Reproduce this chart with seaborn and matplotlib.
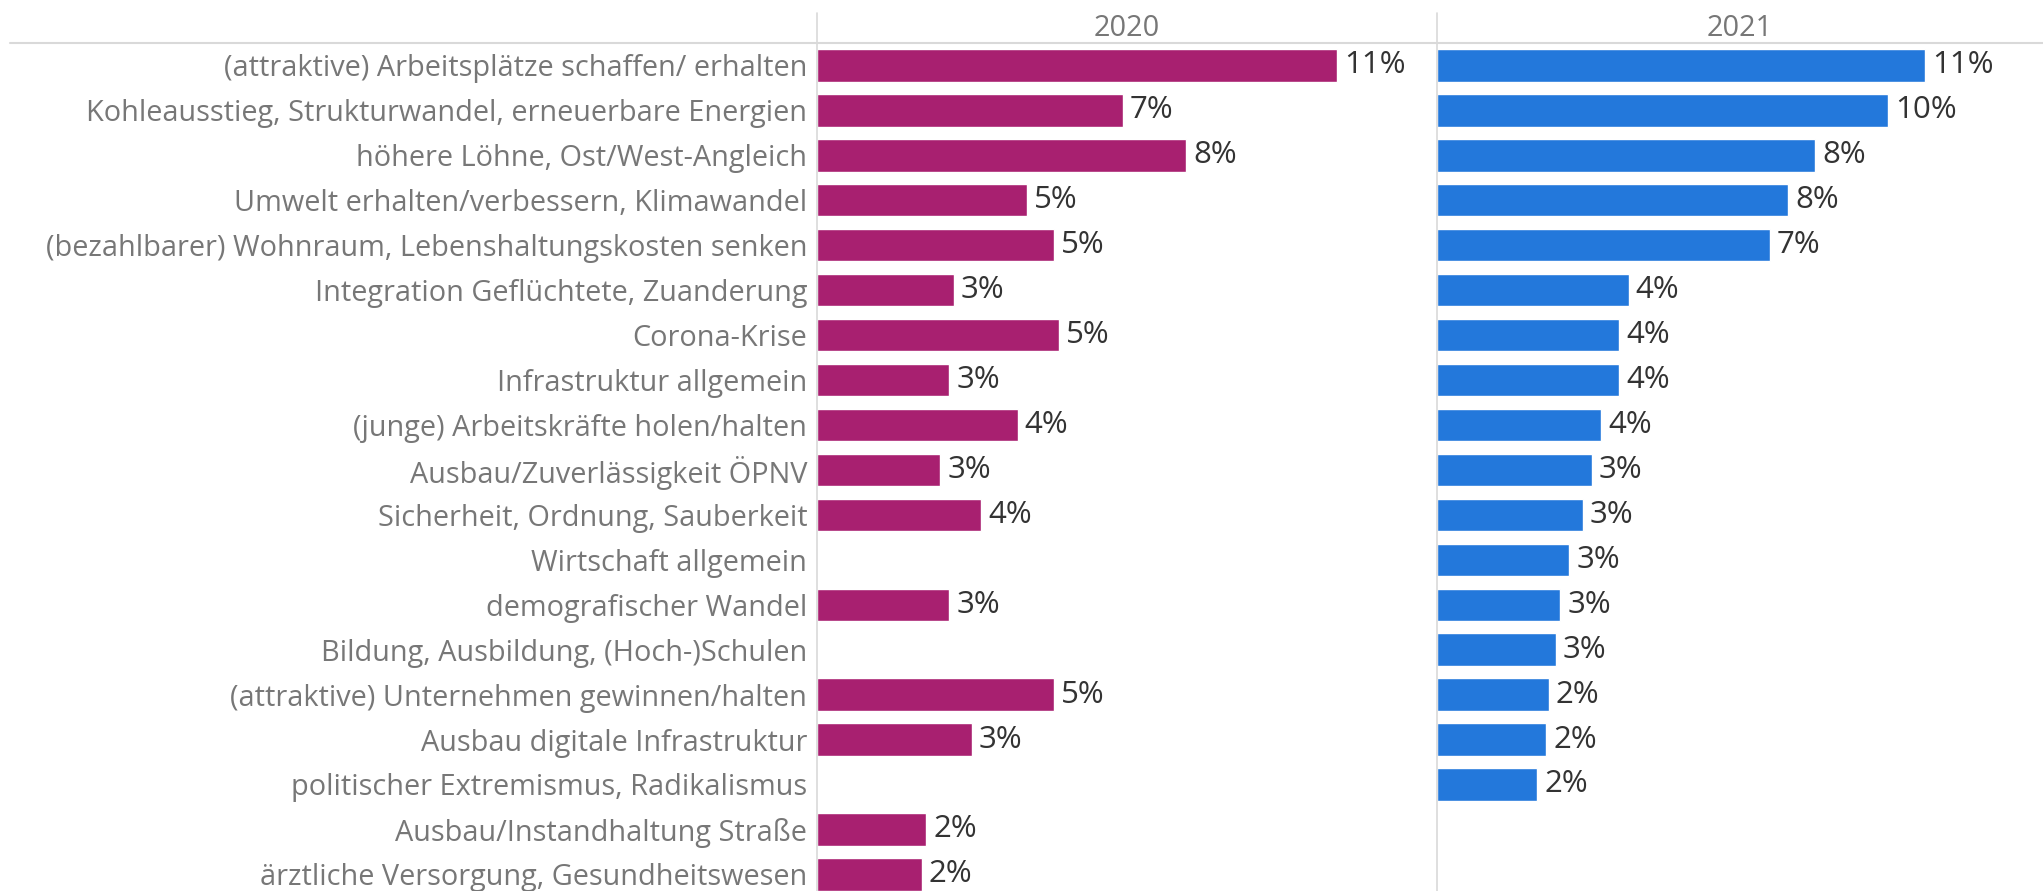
import matplotlib
matplotlib.use("Agg")
from matplotlib import pyplot as plt
import numpy as np
import pandas as pd
import seaborn as sns

categories = [
    "(attraktive) Arbeitsplätze schaffen/ erhalten",
    "Kohleausstieg, Strukturwandel, erneuerbare Energien",
    "höhere Löhne, Ost/West-Angleich",
    "Umwelt erhalten/verbessern, Klimawandel",
    "(bezahlbarer) Wohnraum, Lebenshaltungskosten senken",
    "Integration Geflüchtete, Zuanderung",
    "Corona-Krise",
    "Infrastruktur allgemein",
    "(junge) Arbeitskräfte holen/halten",
    "Ausbau/Zuverlässigkeit ÖPNV",
    "Sicherheit, Ordnung, Sauberkeit",
    "Wirtschaft allgemein",
    "demografischer Wandel",
    "Bildung, Ausbildung, (Hoch-)Schulen",
    "(attraktive) Unternehmen gewinnen/halten",
    "Ausbau digitale Infrastruktur",
    "politischer Extremismus, Radikalismus",
    "Ausbau/Instandhaltung Straße",
    "ärztliche Versorgung, Gesundheitswesen",
]
years = ["2020", "2021"]
values_2020 = [11.4, 6.7, 8.1, 4.6, 5.2, 3.0, 5.3, 2.9, 4.4, 2.7, 3.6, np.nan,
               2.9, np.nan, 5.2, 3.4, np.nan, 2.4, 2.3]
values_2021 = [10.7, 9.9, 8.3, 7.7, 7.3, 4.2, 4.0, 4.0, 3.6, 3.4, 3.2, 2.9,
               2.7, 2.6, 2.45, 2.4, 2.2, np.nan, np.nan]
colors = {"2020": "#A82070", "2021": "#2378DB"}

df = pd.DataFrame({
    "Thema": categories * 2,
    "Jahr": ["2020"] * len(categories) + ["2021"] * len(categories),
    "Anteil": values_2020 + values_2021,
})

sns.set_theme(style="white")
plt.rcParams["font.family"] = ["Open Sans", "DejaVu Sans"]

W, H = 2043, 891
fig = plt.figure(figsize=(W / 100, H / 100), dpi=100)
top = 1 - 43 / H
x0, x1 = 817, 1437
px_per_pct = 45.6
ax1 = fig.add_axes([x0 / W, 0, (x1 - x0) / W, top])
ax2 = fig.add_axes([x1 / W, 0, (W - x1) / W, top])

label_col = "#777777"
grid_col = "#d9d9d9"

for ax, year, width_px in zip([ax1, ax2], years, [x1 - x0, W - x1]):
    sub = df[df["Jahr"] == year]
    sns.barplot(data=sub, x="Anteil", y="Thema", order=categories, color=colors[year],
                width=0.72, orient="h", ax=ax, saturation=1, errorbar=None)
    ax.bar_label(ax.containers[0], fmt=lambda v: f"{v:.0f}%", padding=5,
                 fontsize=22.5, color="#333333")
    ax.set_xlim(0, width_px / px_per_pct)
    ax.set_ylim(18.37, -0.5)
    ax.set_xlabel("")
    ax.set_ylabel("")
    ax.set_xticks([])
    for s in ["top", "right", "bottom"]:
        ax.spines[s].set_visible(False)
    ax.spines["left"].set_color(grid_col)
    ax.spines["left"].set_linewidth(1.2)
    ax.patch.set_alpha(0)

ax1.tick_params(axis="y", length=0, pad=7, labelsize=20.8, labelcolor=label_col)
ax2.set_yticks([])

# column headers
fig.text((x0 + x1) / 2 / W, 1 - 29 / H, "2020", ha="center", va="center",
         fontsize=20.8, color=label_col)
fig.text((x1 + W) / 2 / W, 1 - 29 / H, "2021", ha="center", va="center",
         fontsize=20.8, color=label_col)

# header rule and pane separators
fig.add_artist(plt.Line2D([10 / W, 1], [top, top], color=grid_col, lw=1.5))
fig.add_artist(plt.Line2D([x0 / W, x0 / W], [top, 1 - 13 / H], color=grid_col, lw=1.2))
fig.add_artist(plt.Line2D([x1 / W, x1 / W], [top, 1 - 13 / H], color=grid_col, lw=1.2))

fig.savefig("out.png", dpi=100)
